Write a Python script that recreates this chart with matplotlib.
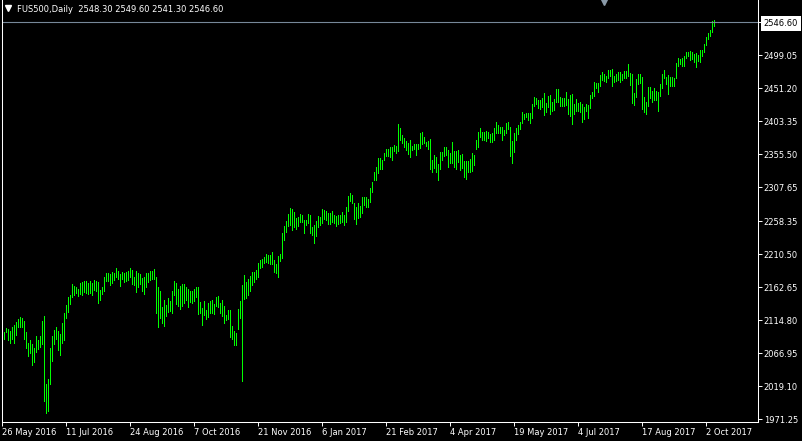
## daily bar chart of FUS500, MT4 look

import numpy as np
import matplotlib
matplotlib.use("Agg")
import matplotlib.pyplot as plt

symbol = "FUS500,Daily"
last_ohlc = [2548.30, 2549.60, 2541.30, 2546.60]

# bar highs / lows, one per trading day
highs = [
    2092, 2097, 2103, 2102, 2099, 2105, 2108, 2112, 2116, 2119,
    2118, 2113, 2097, 2081, 2086, 2080, 2074, 2092, 2086, 2092,
    2113, 2121, 2022, 2029, 2074, 2092, 2100, 2105, 2099, 2095,
    2111, 2125, 2137, 2148, 2151, 2167, 2164, 2163, 2160, 2169,
    2170, 2171, 2171, 2169, 2171, 2169, 2173, 2171, 2170, 2158,
    2163, 2177, 2183, 2183, 2182, 2184, 2183, 2190, 2186, 2182,
    2184, 2183, 2184, 2186, 2190, 2187, 2177, 2186, 2183, 2182,
    2176, 2177, 2183, 2183, 2186, 2186, 2189, 2177, 2163, 2157,
    2134, 2144, 2137, 2147, 2142, 2157, 2171, 2169, 2160, 2164,
    2167, 2167, 2163, 2160, 2157, 2157, 2160, 2163, 2163,
    2141, 2132, 2142, 2129, 2140, 2142, 2144, 2138, 2148, 2150,
    2140, 2144, 2135, 2122, 2129, 2129, 2106, 2099, 2096, 2131,
    2142, 2166, 2180, 2170, 2174, 2179, 2184, 2184, 2187, 2197,
    2202, 2203, 2206, 2211, 2209, 2209, 2213, 2202, 2196, 2208,
    2211, 2241, 2251, 2258, 2269, 2277, 2276, 2271, 2263, 2264,
    2269, 2267, 2260, 2260, 2269, 2267, 2250, 2253, 2258, 2266,
    2264, 2276, 2274, 2273, 2270,
    2270, 2273, 2267, 2266, 2267, 2267, 2271, 2267, 2279, 2295,
    2299, 2296, 2284, 2279, 2284, 2280, 2293, 2293, 2293, 2290,
    2306, 2315, 2329, 2337, 2350, 2350, 2347, 2357, 2363, 2363,
    2366, 2366, 2369, 2367, 2399, 2393, 2383, 2379, 2374, 2371,
    2376, 2367, 2370, 2370, 2370, 2386, 2387, 2380, 2373, 2374,
    2377, 2347, 2354, 2351, 2341, 2358, 2358, 2366, 2366, 2361,
    2357, 2373, 2360, 2360, 2361, 2354, 2356, 2345, 2345, 2345,
    2348, 2357, 2354, 2376, 2387, 2393, 2387, 2387, 2389, 2387,
    2384, 2386, 2393, 2402, 2398, 2395, 2395, 2390, 2400, 2402,
    2395, 2374, 2386, 2393, 2398, 2402, 2416, 2413, 2415, 2415,
    2415, 2428, 2438, 2437, 2434, 2434, 2437, 2444, 2429, 2440,
    2441, 2431, 2435, 2450, 2450, 2438, 2437, 2437, 2445, 2435,
    2441, 2442, 2428, 2435, 2429, 2431, 2428, 2424, 2428, 2427,
    2441, 2445, 2460, 2458, 2458, 2470, 2474, 2471, 2469, 2477,
    2477, 2479, 2469, 2471, 2474, 2474, 2471, 2476, 2476, 2486,
    2473, 2471, 2444, 2464, 2471,
    2471, 2467, 2438, 2431, 2453, 2453, 2447, 2451, 2447, 2445,
    2457, 2471, 2477, 2467, 2470, 2467, 2467, 2466, 2487, 2495,
    2493, 2495, 2498, 2503, 2503, 2505, 2503, 2500, 2502, 2499,
    2506, 2506, 2515, 2525, 2531, 2535, 2548, 2549.6,
]
lows = [
    2081, 2087, 2097, 2086, 2081, 2087, 2081, 2093, 2105, 2105,
    2105, 2087, 2074, 2063, 2067, 2050, 2054, 2068, 2073, 2076,
    2080, 1997, 1980, 1983, 2022, 2055, 2080, 2087, 2071, 2064,
    2081, 2086, 2118, 2126, 2138, 2148, 2151, 2154, 2150, 2153,
    2151, 2155, 2154, 2153, 2154, 2151, 2158, 2157, 2140, 2144,
    2153, 2157, 2171, 2171, 2166, 2169, 2173, 2177, 2174, 2164,
    2174, 2170, 2171, 2173, 2177, 2167, 2166, 2155, 2163, 2167,
    2157, 2153, 2163, 2170, 2173, 2174, 2174, 2125, 2105, 2118,
    2111, 2106, 2121, 2126, 2128, 2125, 2151, 2138, 2135, 2131,
    2135, 2140, 2144, 2134, 2141, 2140, 2142, 2148, 2123,
    2125, 2108, 2122, 2116, 2119, 2125, 2125, 2123, 2135, 2134,
    2125, 2121, 2111, 2115, 2116, 2090, 2087, 2079, 2079, 2102,
    2118, 2026, 2145, 2147, 2151, 2157, 2166, 2170, 2174, 2177,
    2190, 2192, 2197, 2199, 2197, 2196, 2196, 2184, 2183, 2177,
    2200, 2205, 2231, 2242, 2251, 2253, 2245, 2250, 2247, 2251,
    2257, 2257, 2241, 2253, 2255, 2241, 2238, 2226, 2237, 2250,
    2253, 2255, 2261, 2260, 2254,
    2254, 2257, 2255, 2251, 2254, 2255, 2257, 2253, 2257, 2273,
    2287, 2284, 2261, 2254, 2263, 2264, 2270, 2282, 2279, 2279,
    2286, 2300, 2318, 2318, 2328, 2334, 2334, 2347, 2353, 2353,
    2351, 2347, 2360, 2357, 2360, 2376, 2371, 2366, 2361, 2355,
    2351, 2361, 2363, 2354, 2363, 2364, 2370, 2371, 2367, 2363,
    2334, 2329, 2335, 2329, 2318, 2334, 2347, 2353, 2354, 2337,
    2342, 2342, 2337, 2334, 2344, 2332, 2335, 2322, 2319, 2329,
    2329, 2331, 2340, 2363, 2366, 2380, 2376, 2376, 2374, 2379,
    2373, 2373, 2376, 2386, 2386, 2386, 2376, 2383, 2386, 2392,
    2353, 2342, 2358, 2376, 2384, 2392, 2400, 2406, 2409, 2405,
    2400, 2408, 2425, 2428, 2422, 2421, 2424, 2412, 2416, 2424,
    2413, 2418, 2419, 2431, 2431, 2425, 2425, 2425, 2427, 2413,
    2411, 2399, 2413, 2418, 2418, 2416, 2402, 2406, 2418, 2408,
    2422, 2437, 2440, 2451, 2445, 2454, 2463, 2461, 2460, 2466,
    2469, 2454, 2460, 2461, 2463, 2460, 2463, 2466, 2466, 2469,
    2455, 2429, 2427, 2438, 2457,
    2458, 2421, 2416, 2413, 2425, 2437, 2431, 2434, 2434, 2418,
    2440, 2451, 2466, 2457, 2442, 2454, 2454, 2454, 2466, 2483,
    2486, 2483, 2483, 2495, 2498, 2492, 2493, 2489, 2482, 2490,
    2489, 2498, 2503, 2514, 2522, 2527, 2532, 2541.3,
]

date_labels = ["26 May 2016", "11 Jul 2016", "24 Aug 2016", "7 Oct 2016",
               "21 Nov 2016", "6 Jan 2017", "21 Feb 2017", "4 Apr 2017",
               "19 May 2017", "4 Jul 2017", "17 Aug 2017", "2 Oct 2017"]
bars_per_label = 32

price_ticks = [1971.25, 2019.10, 2066.95, 2114.80, 2162.65, 2210.50, 2258.35,
               2307.65, 2355.50, 2403.35, 2451.20, 2499.05, 2546.60]

bar_col = "#00ff00"
fs = 6.0

fig = plt.figure(figsize=(8.02, 4.41), dpi=100, facecolor="black")
ax = fig.add_axes([1.5 / 802, 19 / 441, 756 / 802, 422 / 441])
ax.set_facecolor("black")

x = np.arange(len(highs))
ax.vlines(x, lows, highs, colors=bar_col, linewidth=0.6, antialiased=False)

# last price line
ax.axhline(last_ohlc[3], color="#778899", lw=0.8)

ax.set_xlim(-0.25, 377.75)
ax.set_ylim(1966.9, 2578.8)

for s in ["left", "bottom", "right"]:
    ax.spines[s].set_color("white")
    ax.spines[s].set_linewidth(0.75)
ax.spines["top"].set_visible(False)

ax.yaxis.tick_right()
ax.set_yticks(price_ticks)
ax.set_yticklabels(["%.2f" % v for v in price_ticks])
ax.set_xticks(np.arange(len(date_labels)) * bars_per_label)
ax.set_xticklabels(date_labels)
ax.tick_params(axis="both", colors="white", length=3, width=0.7,
               direction="out", labelsize=fs, pad=1.5)
for lab in ax.get_xticklabels():
    lab.set_ha("left")

top = ax.get_yticklabels()[-1]
top.set_color("black")
top.set_bbox(dict(facecolor="white", edgecolor="none", pad=2.2))

# header text
title = symbol + "  " + " ".join("%.2f" % v for v in last_ohlc)
fig.text(17 / 802, 1 - 9 / 441, title, color="white", fontsize=fs, va="center")
ax.plot([8 / 802], [1 - 8 / 441], marker="v", color="white", ms=4.5,
        transform=fig.transFigure, clip_on=False)
# chart shift marker
ax.plot([604 / 802], [1 - 2 / 441], marker="v", color="#8a9aa8", ms=5,
        transform=fig.transFigure, clip_on=False)

fig.savefig("out.png", dpi=100, facecolor="black")
